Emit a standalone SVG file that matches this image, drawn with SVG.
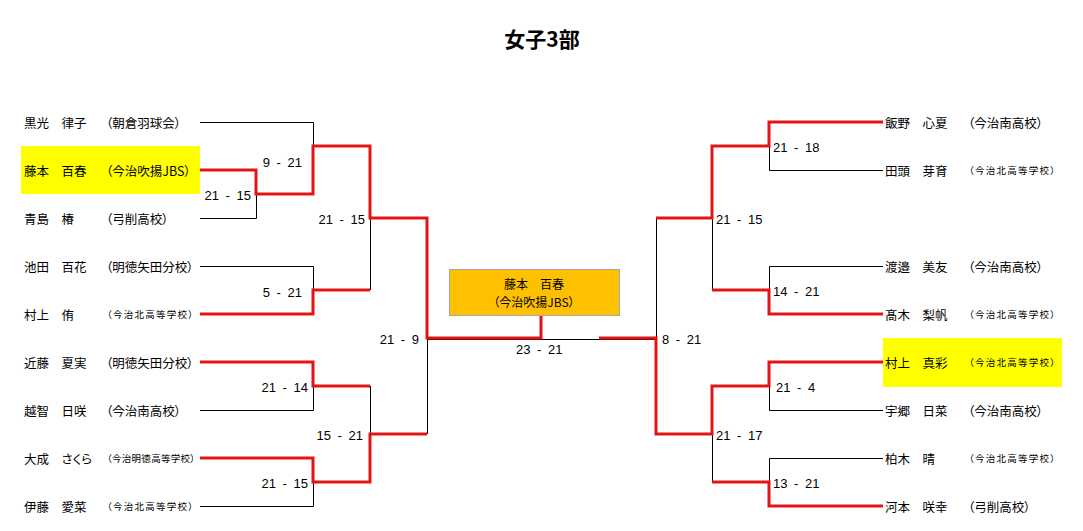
<svg xmlns="http://www.w3.org/2000/svg" width="1083" height="531" viewBox="0 0 1083 531">
<style>
text{font-family:"Noto Sans CJK JP","Liberation Sans",sans-serif;fill:#000;font-feature-settings:"palt"}
.t{font-size:21px;font-weight:bold;text-anchor:middle}
.n{font-size:12.5px;dominant-baseline:central}
.s{font-size:12.5px;dominant-baseline:central}
.ss{font-size:9.5px;dominant-baseline:central}
.bx{font-size:12px;dominant-baseline:central;text-anchor:middle}
.sc{font-family:"Liberation Sans",sans-serif;font-size:13px;dominant-baseline:central;word-spacing:3px}
.r{text-anchor:end}
.k{fill:none;stroke:#000;stroke-width:1}
.red{fill:none;stroke:#E21414;stroke-width:3;stroke-linejoin:miter}
.hl{fill:#FFFF00}
</style>
<rect width="1083" height="531" fill="#fff"/>
<text class="t" x="542" y="47">女子3部</text>
<g id="highlights">
<rect class="hl" x="21" y="146" width="179" height="48"/>
<rect class="hl" x="883" y="338" width="179" height="49"/>
</g>
<g id="connectors">
<path class="k" d="M200,122.5H313.5V146M200,218.5H256.5V194M200,266.5H313.5V290M313.5,386V410.5H200M200,506.5H313.5V482M370.5,218V290M370.5,386V434M427.5,338V434M427,339.5H656M656.5,218V338M712.5,218V290M712.5,434V482M769.5,146V170.5H883M883,266.5H769.5V290M769.5,386V410.5H883M883,458.5H769.5V482"/>
<path class="red" d="M200,170H256V194H313V146H370V218H427V338H541V316"/>
<path class="red" d="M200,314H313V290H370"/>
<path class="red" d="M200,362H313V386H370"/>
<path class="red" d="M200,458H313V482H370V434H427"/>
<path class="red" d="M599,338H656V434H712V386H769V362H883"/>
<path class="red" d="M656,218H712V146H769V122H883"/>
<path class="red" d="M712,290H769V314H883"/>
<path class="red" d="M712,482H769V506H883"/>
</g>
<g id="scores">
<text class="sc r" x="302" y="162">9 - 21</text>
<text class="sc r" x="251" y="195">21 - 15</text>
<text class="sc r" x="302" y="292">5 - 21</text>
<text class="sc r" x="308" y="387">21 - 14</text>
<text class="sc r" x="308" y="483">21 - 15</text>
<text class="sc r" x="365" y="219">21 - 15</text>
<text class="sc r" x="363" y="435">15 - 21</text>
<text class="sc r" x="419" y="339">21 - 9</text>
<text class="sc" x="516" y="349">23 - 21</text>
<text class="sc" x="662" y="339">8 - 21</text>
<text class="sc" x="716" y="219">21 - 15</text>
<text class="sc" x="716" y="435">21 - 17</text>
<text class="sc" x="773" y="147">21 - 18</text>
<text class="sc" x="773" y="291">14 - 21</text>
<text class="sc" x="776" y="387">21 - 4</text>
<text class="sc" x="773" y="483">13 - 21</text>
</g>
<g id="winner">
<rect x="449.5" y="269.5" width="170" height="46" fill="#FFC000" stroke="#A6A6A6"/>
<text class="bx" x="534" y="283">藤本　百春</text>
<text class="bx" x="534" y="301">（今治吹揚JBS）</text>
</g>
<g id="p1"><text class="n" x="24" y="122">黒光　律子</text><text class="s" x="106" y="122">（朝倉羽球会）</text></g>
<g id="p2"><text class="n" x="24" y="170">藤本　百春</text><text class="s" x="106" y="170">（今治吹揚JBS）</text></g>
<g id="p3"><text class="n" x="24" y="218">青島　椿</text><text class="s" x="106" y="218">（弓削高校）</text></g>
<g id="p4"><text class="n" x="24" y="266">池田　百花</text><text class="s" x="106" y="266">（明徳矢田分校）</text></g>
<g id="p5"><text class="n" x="24" y="314">村上　侑</text><text class="ss" x="107" y="314" textLength="86" lengthAdjust="spacing">（今治北高等学校）</text></g>
<g id="p6"><text class="n" x="24" y="362">近藤　夏実</text><text class="s" x="106" y="362">（明徳矢田分校）</text></g>
<g id="p7"><text class="n" x="24" y="410">越智　日咲</text><text class="s" x="106" y="410">（今治南高校）</text></g>
<g id="p8"><text class="n" x="24" y="458">大成　さくら</text><text class="ss" x="107" y="458" textLength="88" lengthAdjust="spacing">（今治明徳高等学校）</text></g>
<g id="p9"><text class="n" x="24" y="506">伊藤　愛菜</text><text class="ss" x="107" y="506" textLength="86" lengthAdjust="spacing">（今治北高等学校）</text></g>
<g id="p10"><text class="n" x="885" y="122">飯野　心夏</text><text class="s" x="968" y="122">（今治南高校）</text></g>
<g id="p11"><text class="n" x="885" y="170">田頭　芽育</text><text class="ss" x="969" y="170" textLength="86" lengthAdjust="spacing">（今治北高等学校）</text></g>
<g id="p12"><text class="n" x="885" y="266">渡邉　美友</text><text class="s" x="968" y="266">（今治南高校）</text></g>
<g id="p13"><text class="n" x="885" y="314">髙木　梨帆</text><text class="ss" x="969" y="314" textLength="86" lengthAdjust="spacing">（今治北高等学校）</text></g>
<g id="p14"><text class="n" x="885" y="362">村上　真彩</text><text class="ss" x="969" y="362" textLength="86" lengthAdjust="spacing">（今治北高等学校）</text></g>
<g id="p15"><text class="n" x="885" y="410">宇郷　日菜</text><text class="s" x="968" y="410">（今治南高校）</text></g>
<g id="p16"><text class="n" x="885" y="458">柏木　晴</text><text class="ss" x="969" y="458" textLength="86" lengthAdjust="spacing">（今治北高等学校）</text></g>
<g id="p17"><text class="n" x="885" y="506">河本　咲幸</text><text class="s" x="968" y="506">（弓削高校）</text></g>
</svg>
